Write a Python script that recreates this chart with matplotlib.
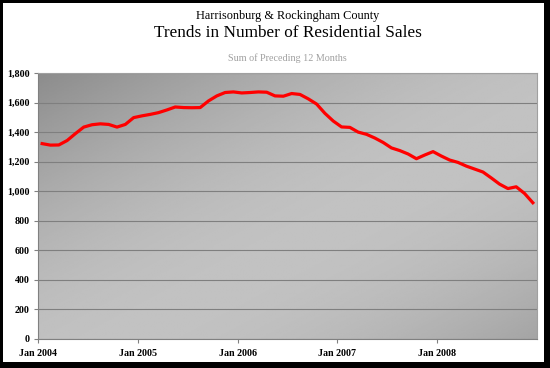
import numpy as np
import matplotlib.pyplot as plt
from matplotlib.patches import Rectangle

# ---------------------------------------------------------
# data: rolling 12-month sum of residential sales
# ---------------------------------------------------------
months = [f"{m} {y}" for y in range(2004, 2009)
          for m in ["Jan", "Feb", "Mar", "Apr", "May", "Jun",
                    "Jul", "Aug", "Sep", "Oct", "Nov", "Dec"]]

sales_2004 = [1322, 1312, 1313, 1343, 1390, 1434, 1450, 1456, 1452, 1434, 1452, 1498]
sales_2005 = [1510, 1520, 1532, 1550, 1570, 1566, 1565, 1566, 1611, 1645, 1668, 1672]
sales_2006 = [1665, 1668, 1672, 1670, 1645, 1643, 1661, 1655, 1625, 1590, 1527, 1475]
sales_2007 = [1435, 1432, 1400, 1385, 1360, 1330, 1293, 1275, 1252, 1220, 1245, 1268]
sales_2008 = [1238, 1211, 1195, 1170, 1150, 1130, 1090, 1048, 1018, 1030, 985, 922]

sales = sales_2004 + sales_2005 + sales_2006 + sales_2007 + sales_2008

tick_labels = ["Jan 2004", "Jan 2005", "Jan 2006", "Jan 2007", "Jan 2008"]
y_ticks = list(range(0, 1801, 200))

# ---------------------------------------------------------
# figure
# ---------------------------------------------------------
serif = ["Liberation Serif", "DejaVu Serif"]
W, H = 550, 368

fig = plt.figure(figsize=(5.5, 3.68), dpi=100)
fig.patch.set_facecolor("black")

# white card with black frame (thicker on right / bottom)
fig.patches.append(Rectangle((3 / W, 6 / H), 541 / W, 359 / H,
                             transform=fig.transFigure, facecolor="white",
                             edgecolor="none", zorder=-5))

ax = fig.add_axes([38 / W, (H - 339) / H, 499 / W, 266 / H])
ax.set_zorder(2)

# diagonal grey gradient background
gx, gy = np.meshgrid(np.linspace(0, 1, 200), np.linspace(1, 0, 200))
t = (gx + (1 - gy)) / 2
shade = 0.55 + 0.21 * np.sin(np.pi * t * 0.85)
ax.imshow(shade, cmap="gray", vmin=0, vmax=1, extent=[0, 1, 0, 1],
          transform=ax.transAxes, aspect="auto", zorder=0,
          interpolation="bilinear")

x = np.arange(len(sales))
ax.plot(x, sales, color="#ff0000", lw=2.3, solid_joinstyle="round", zorder=3)

ax.set_xlim(-0.5, len(sales) - 0.5)
ax.set_ylim(0, 1800)

ax.set_yticks(y_ticks)
ax.set_yticklabels([f"{v:,}" for v in y_ticks])
ax.set_xticks(np.arange(0, 60, 12) - 0.5)
ax.set_xticklabels(tick_labels)

ax.yaxis.grid(True, color="#7f7f7f", lw=0.8, zorder=1)
ax.set_axisbelow(True)

for lab in ax.get_xticklabels() + ax.get_yticklabels():
    lab.set_family(serif)
    lab.set_fontweight("bold")
    lab.set_fontsize(7.2)

ax.tick_params(axis="y", length=3, color="#808080", pad=3)
ax.tick_params(axis="x", length=3, color="#808080", pad=4)

for s in ["left", "bottom"]:
    ax.spines[s].set_color("#808080")
for s in ["top", "right"]:
    ax.spines[s].set_color("#a0a0a0")

# ---------------------------------------------------------
# titles (centred over the plot area)
# ---------------------------------------------------------
cx = (38 + 537) / 2 / W
fig.text(cx, 1 - 16 / H, "Harrisonburg & Rockingham County", ha="center", va="center",
         family=serif, fontsize=8.8, color="black")
fig.text(cx, 1 - 33 / H, "Trends in Number of Residential Sales", ha="center", va="center",
         family=serif, fontsize=12.4, color="black")
fig.text(cx, 1 - 58 / H, "Sum of Preceding 12 Months", ha="center", va="center",
         family=serif, fontsize=7.3, color="#a0a0a0")

fig.savefig("out.png", dpi=100, facecolor="black")
